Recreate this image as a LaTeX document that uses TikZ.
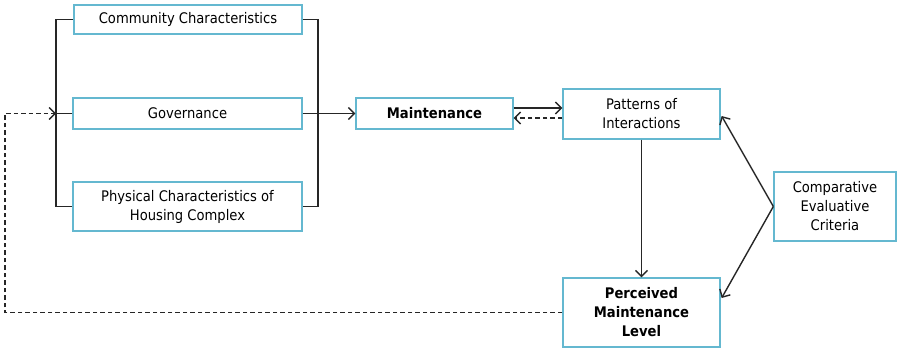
\documentclass[tikz,border=0pt]{standalone}
\usepackage{fontspec}
\setmainfont{DejaVu Sans Condensed}
\usetikzlibrary{arrows.meta, positioning}
\definecolor{boxblue}{RGB}{100,184,208}

\begin{document}
\begin{tikzpicture}[
        x=1pt, y=1pt, >={Straight Barb[length=6pt,width=12pt]},
        box/.style={draw=boxblue, line width=1.3pt, align=center, inner sep=2pt,
                    font=\fontsize{14.6}{19}\selectfont},
        link/.style={line width=1.4pt, black!85},
        back/.style={link, dash pattern=on 4.5pt off 3pt},
        ]
        \useasboundingbox (0,0) rectangle (898,349);

        % factors on the left
        \node[box, minimum width=228pt, minimum height=29pt] (comm) at (188,329.5) {Community Characteristics};
        \node[box, minimum width=229pt, minimum height=31pt] (gov)  at (187.5,235.5) {Governance};
        \node[box, minimum width=229pt, minimum height=49pt] (phys) at (187.5,142.5) {Physical Characteristics of\\Housing Complex};

        \node[box, minimum width=157pt, minimum height=31pt, font=\fontsize{14.6}{19}\selectfont\bfseries] (maint) at (434.5,235.5) {Maintenance};
        \node[box, minimum width=157pt, minimum height=50pt] (patt) at (641.5,235) {Patterns of\\Interactions};
        \node[box, minimum width=157pt, minimum height=69pt, font=\fontsize{14.6}{19}\selectfont\bfseries] (perc) at (641.5,36.5) {Perceived\\Maintenance\\Level};
        \node[box, minimum width=122pt, minimum height=69pt] (comp) at (835,142.5) {Comparative\\Evaluative\\Criteria};

        \coordinate (lbar) at (56,235.5);
        \coordinate (rbar) at (318,235.5);
        \coordinate (fbcorner) at (5,235.5);

        % brackets
        \draw[link] (comm.west) -| (56,142.5) -- (phys.west);
        \draw[link] (gov.west) -- (lbar);
        \draw[link] (comm.east) -| (318,142.5) -- (phys.east);
        \draw[link,->] (gov.east) -- (maint.west);

        \draw[link,->] ([yshift=5.5pt]maint.east) -- ([yshift=5.5pt]maint.east -| patt.west);
        \draw[back,->] ([yshift=-4.5pt]maint.east -| patt.west) -- ([yshift=-4.5pt]maint.east);
        \draw[link,->] (patt.south) -- (perc.north);
        \draw[link,->] (comp.west) -- ([yshift=-1pt,xshift=1pt]patt.north east |- 0,234);
        \draw[link,->] (comp.west) -- ([xshift=1pt]perc.east |- 0,51);

        % feedback loop
        \draw[back,->] (perc.west) -| (fbcorner) -- (lbar);
\end{tikzpicture}
\end{document}
